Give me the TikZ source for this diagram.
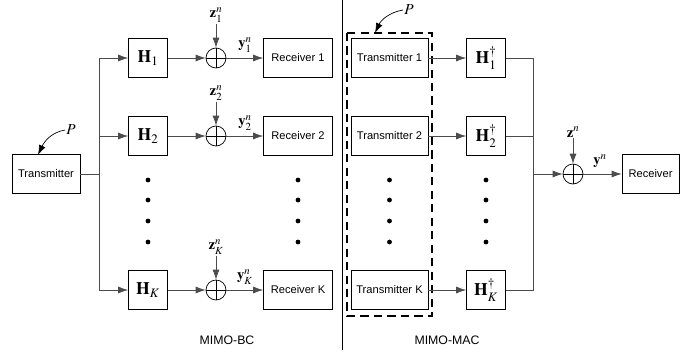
\documentclass[tikz,border=0pt]{standalone}
\usepackage{mathptmx}
\usepackage{fontspec}
\setmainfont{Liberation Sans}
\usetikzlibrary{arrows.meta}
\begin{document}
\begin{tikzpicture}[x=0.03cm,y=-0.03cm,>={Latex[length=8.5pt,width=6pt]},
  blk/.style={draw,line width=0.6pt,inner sep=0pt,minimum height=1.17cm,font=\fontsize{9.5}{11}\selectfont},
  chan/.style={blk,minimum width=1.17cm,font=\fontsize{15}{16}\selectfont},
  adder/.style={circle,draw,line width=0.6pt,minimum size=0.6cm,inner sep=0pt,
    path picture={\draw (path picture bounding box.north) -- (path picture bounding box.south)
      (path picture bounding box.west) -- (path picture bounding box.east);}},
  conn/.style={line width=0.6pt,draw=black!70},
  sig/.style={font=\fontsize{12.5}{13}\selectfont,inner sep=1pt},
  capt/.style={font=\fontsize{10.5}{12}\selectfont}]
  \useasboundingbox (0,0) rectangle (699,355);
  % MIMO-BC
  \node[blk,minimum width=2.04cm] (tx) at (46,174) {Transmitter};
  \node[chan] (h1) at (148,58) {$\mathbf{H}_1$};
  \node[chan] (h2) at (148,136) {$\mathbf{H}_2$};
  \node[chan] (hK) at (148,290) {$\mathbf{H}_K$};
  \node[adder] (s1) at (216,58) {};
  \node[adder] (s2) at (216,136) {};
  \node[adder] (sK) at (216,290) {};
  \node[blk,minimum width=2.07cm] (rx1) at (298,58) {Receiver 1};
  \node[blk,minimum width=2.07cm] (rx2) at (298,136) {Receiver 2};
  \node[blk,minimum width=2.07cm] (rxK) at (298,290) {Receiver K};
  \node[sig] (z1) at (216,15) {$\mathbf{z}_1^n$};
  \node[sig] (z2) at (216,93) {$\mathbf{z}_2^n$};
  \node[sig] (zK) at (216,247) {$\mathbf{z}_K^n$};
  \node[sig] (y1) at (245,45) {$\mathbf{y}_1^n$};
  \node[sig] (y2) at (245,123) {$\mathbf{y}_2^n$};
  \node[sig] (yK) at (245,277) {$\mathbf{y}_K^n$};
  \node[sig,font=\fontsize{13}{14}\selectfont] (p1) at (71,130) {$P$};
  \coordinate (p1end) at (38,155);
  \coordinate (t0) at (99,174);
  \coordinate (t1) at (99,58);
  \coordinate (t2) at (99,136);
  \coordinate (tK) at (99,290);
  \draw[conn] (tx.east) -- (t0);
  \draw[conn] (t1) -- (tK);
  \draw[conn,->] (t1) -- (h1);
  \draw[conn,->] (t2) -- (h2);
  \draw[conn,->] (tK) -- (hK);
  \draw[conn,->] (h1) -- (s1);
  \draw[conn,->] (h2) -- (s2);
  \draw[conn,->] (hK) -- (sK);
  \draw[conn,->] (s1) -- (rx1);
  \draw[conn,->] (s2) -- (rx2);
  \draw[conn,->] (sK) -- (rxK);
  \draw[conn,->] (z1) -- (s1);
  \draw[conn,->] (z2) -- (s2);
  \draw[conn,->] (zK) -- (sK);
  \draw[line width=0.6pt,->] (p1.west) to[out=190,in=65] (p1end);
  \node[capt] (bc) at (227,340) {MIMO-BC};
  % separator
  \draw[line width=0.8pt] (342,0) -- (342,350);
  % MIMO-MAC
  \node[blk,minimum width=2.31cm] (tr1) at (389.5,58) {Transmitter 1};
  \node[blk,minimum width=2.31cm] (tr2) at (389.5,136) {Transmitter 2};
  \node[blk,minimum width=2.31cm] (trK) at (389.5,290) {Transmitter K};
  \node[chan] (g1) at (486,58) {$\mathbf{H}_1^\dagger$};
  \node[chan] (g2) at (486,136) {$\mathbf{H}_2^\dagger$};
  \node[chan] (gK) at (486,290) {$\mathbf{H}_K^\dagger$};
  \draw[line width=1.3pt,dash pattern=on 7pt off 4.5pt] (347,33) rectangle (432,316);
  \node[sig,font=\fontsize{13}{14}\selectfont] (p2) at (409,10) {$P$};
  \coordinate (p2end) at (375,33);
  \draw[line width=0.6pt,->] (p2.west) to[out=190,in=65] (p2end);
  \coordinate (b0) at (533,174);
  \coordinate (b1) at (533,58);
  \coordinate (b2) at (533,136);
  \coordinate (bK) at (533,290);
  \node[adder] (s0) at (573,174) {};
  \node[blk,minimum width=1.71cm] (rx) at (650.5,174) {Receiver};
  \node[sig] (z0) at (573,132) {$\mathbf{z}^n$};
  \node[sig] (y0) at (600,161) {$\mathbf{y}^n$};
  \draw[conn,->] (tr1) -- (g1);
  \draw[conn,->] (tr2) -- (g2);
  \draw[conn,->] (trK) -- (gK);
  \draw[conn] (g1) -- (b1) -- (bK) -- (gK);
  \draw[conn] (g2) -- (b2);
  \draw[conn,->] (b0) -- (s0);
  \draw[conn,->] (z0) -- (s0);
  \draw[conn,->] (s0) -- (rx);
  \node[capt] (mac) at (447,340) {MIMO-MAC};
  % dots
  \foreach \dx in {148,298,389.5,486}
    \foreach \dy in {180,200,221,242}
      \fill (\dx,\dy) circle (2.4);
\end{tikzpicture}
\end{document}
